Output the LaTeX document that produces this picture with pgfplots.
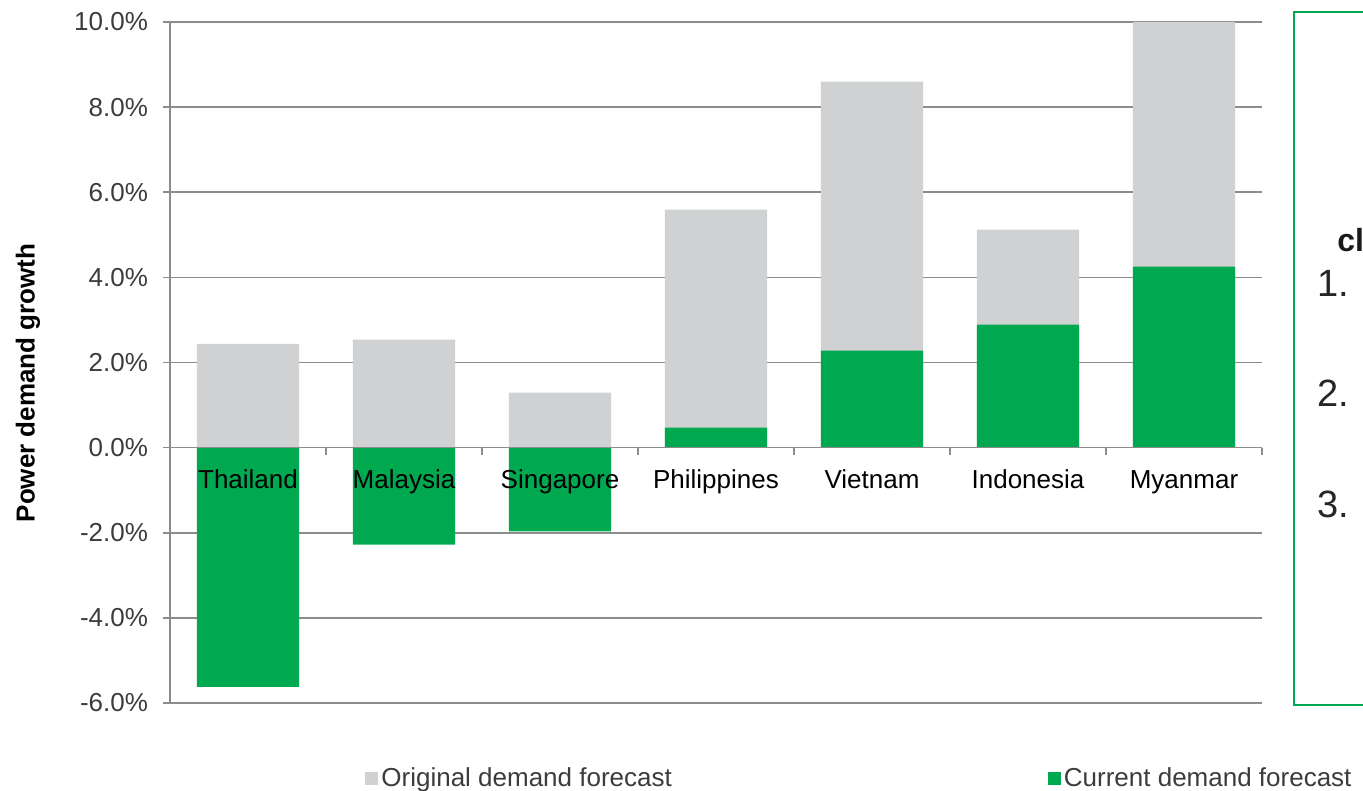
\documentclass[border=0pt]{standalone}
\usepackage{fontspec}
\setmainfont{Liberation Sans}
\usepackage{pgfplots}
\pgfplotsset{compat=1.18}
\definecolor{gbar}{RGB}{208,209,211}
\definecolor{cbar}{RGB}{0,168,80}
\definecolor{gridc}{RGB}{140,140,140}
\definecolor{tickc}{RGB}{60,60,60}
\begin{document}
\begin{tikzpicture}
\useasboundingbox (-85bp,-44bp) rectangle (596.5bp,351.5bp);
\begin{axis}[
  at={(0,0)}, anchor=south west,
  scale only axis, width=546bp, height=340.5bp,
  xmin=-0.5, xmax=6.5, ymin=-6, ymax=10,
  axis x line*=middle, axis y line*=left,
  x axis line style={-, gridc, line width=0.8bp},
  y axis line style={-, gridc, line width=0.8bp},
  xtick={-0.5,0.5,...,6.5}, xticklabels={},
  xtick style={gridc, line width=0.8bp},
  tick align=outside, major tick length=3.5bp,
  ytick={-6,-4,...,10},
  yticklabels={-6.0\%,-4.0\%,-2.0\%,0.0\%,2.0\%,4.0\%,6.0\%,8.0\%,10.0\%},
  yticklabel style={font=\fontsize{13bp}{15bp}\selectfont, text=tickc, xshift=-4bp},
  ytick style={gridc, line width=0.8bp},
  ymajorgrids, grid style={gridc, line width=0.8bp},
  ylabel={Power demand growth},
  ylabel style={at={(axis description cs:-0.130,0.47)}, anchor=center, font=\bfseries\fontsize{13bp}{15bp}\selectfont},
  ybar, bar width=0.654, bar shift=0pt,
  legend columns=2,
  legend style={at={(axis description cs:0.1786,-0.1110)}, anchor=west, draw=none, fill=none,
     inner sep=0pt, font=\fontsize{13bp}{15bp}\selectfont, text=tickc,
     /tikz/every even column/.append style={column sep=186.5bp},
     nodes={inner sep=1.5bp}},
  legend image code/.code={\fill[#1,draw=none] (0bp,-3.25bp) rectangle (6.5bp,3.25bp);},
  clip=false,
]
\addplot[fill=gbar, draw=none] coordinates {(0,2.44) (1,2.54) (2,1.29) (3,5.59) (4,8.60) (5,5.12) (6,10.0)};
\addlegendentry{Original demand forecast}
\addplot[fill=cbar, draw=none] coordinates {(0,-5.62) (1,-2.28) (2,-1.97) (3,0.47) (4,2.28) (5,2.89) (6,4.25)};
\addlegendentry{Current demand forecast}
\draw[gridc, line width=0.8bp] (axis cs:-0.5,0) -- (axis cs:6.5,0);
\foreach \i/\name in {0/Thailand,1/Malaysia,2/Singapore,3/Philippines,4/Vietnam,5/Indonesia,6/Myanmar}{
  \edef\tmp{\noexpand\node[anchor=base, inner sep=0pt, font=\noexpand\fontsize{13bp}{15bp}\noexpand\selectfont, text=black] at (axis cs:\i,0) [yshift=-20.5bp] {\name};}
  \tmp
}
\end{axis}
\draw[cbar, line width=0.8bp] (562bp,-1bp) rectangle (620bp,345.5bp);
\node[anchor=base west, inner sep=0pt, font=\bfseries\fontsize{16bp}{18bp}\selectfont, text=black!90] at (583.5bp,225.5bp) {cl};
\node[anchor=base west, inner sep=0pt, font=\fontsize{19bp}{21bp}\selectfont, text=black!85] at (573.5bp,203bp) {1.};
\node[anchor=base west, inner sep=0pt, font=\fontsize{19bp}{21bp}\selectfont, text=black!85] at (573.5bp,148bp) {2.};
\node[anchor=base west, inner sep=0pt, font=\fontsize{19bp}{21bp}\selectfont, text=black!85] at (573.5bp,92.5bp) {3.};
\end{tikzpicture}
\end{document}
